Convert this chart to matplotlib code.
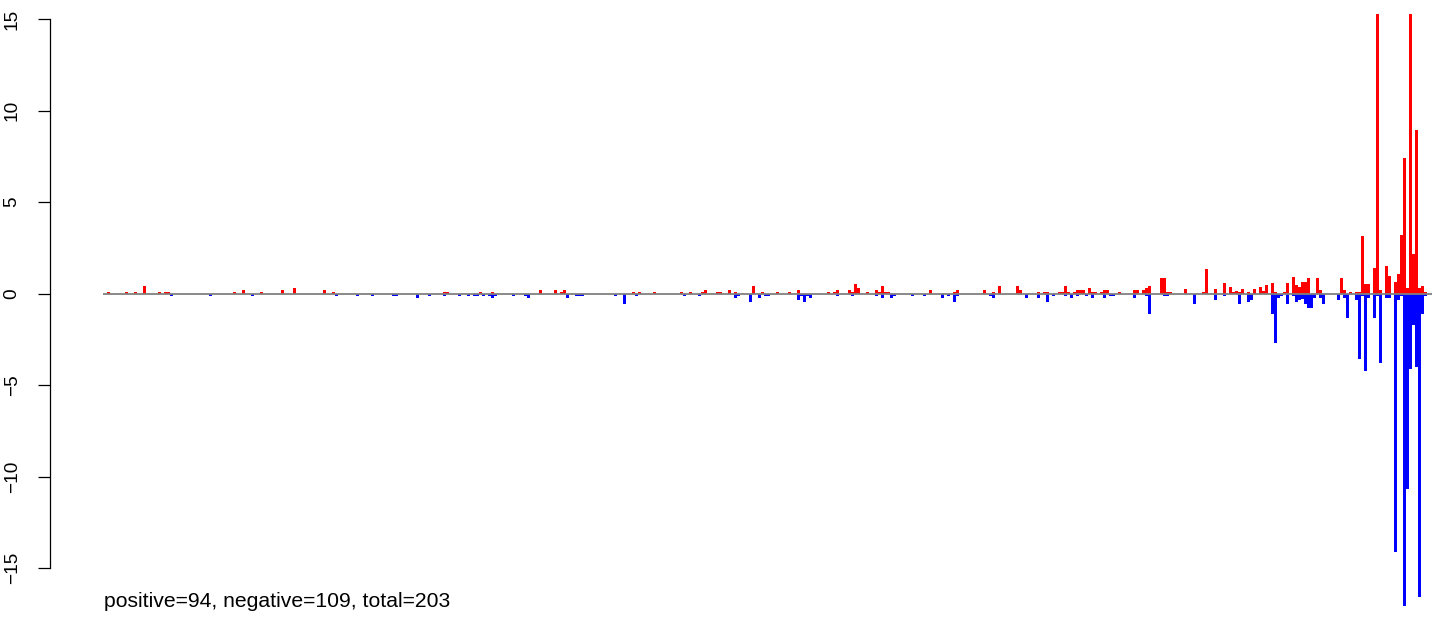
import numpy as np
import matplotlib
matplotlib.use('Agg')
import matplotlib.pyplot as plt

plt.rcParams['font.family'] = ['Liberation Sans', 'DejaVu Sans']

# slot index along the x axis and bar height
pos_slots = [0, 6, 9, 12, 17, 19, 20, 42, 45, 51, 58, 62, 72, 75,
             112, 113, 124, 128, 144, 149, 151, 152, 175, 177,
             182, 191, 194, 198, 199, 203, 204, 207, 209, 215, 218, 223, 227, 230,
             240, 242, 243, 247, 248, 249, 250, 253, 256, 257, 258, 259, 260,
             274, 282, 283, 292, 295, 297, 303, 304, 310, 312, 313, 317, 318, 319,
             320, 322, 323, 324, 325, 327, 328, 329, 331, 332, 333, 337, 342, 343,
             345, 346, 347, 351, 352, 353, 354, 359, 365, 366, 369, 372, 374, 375,
             376, 377, 378, 380, 382, 384, 385, 386, 388, 389, 392, 393, 395, 396,
             397, 398, 399, 400, 403, 404, 411, 412, 414, 416, 417, 418, 419, 420,
             422, 423, 424, 426, 427, 429, 430, 431, 432, 433, 434, 435, 436, 437,
             438, 439]
pos_vals = [0.1, 0.1, 0.1, 0.4, 0.1, 0.1, 0.1, 0.1, 0.18, 0.1, 0.18, 0.29, 0.18, 0.1,
            0.1, 0.1, 0.1, 0.1, 0.18, 0.18, 0.1, 0.18, 0.1, 0.1,
            0.1, 0.1, 0.1, 0.1, 0.18, 0.1, 0.1, 0.18, 0.1, 0.4, 0.1, 0.1, 0.1, 0.18,
            0.1, 0.1, 0.18, 0.18, 0.1, 0.5, 0.3, 0.1, 0.18, 0.1, 0.4, 0.1, 0.1,
            0.18, 0.1, 0.18, 0.18, 0.1, 0.4, 0.4, 0.18, 0.1, 0.1, 0.1, 0.1, 0.1, 0.4,
            0.1, 0.1, 0.18, 0.18, 0.18, 0.3, 0.1, 0.1, 0.1, 0.18, 0.18, 0.1, 0.18, 0.18,
            0.18, 0.3, 0.4, 0.83, 0.83, 0.1, 0.1, 0.27, 0.1, 1.36, 0.27, 0.6, 0.38, 0.1,
            0.16, 0.1, 0.27, 0.1, 0.27, 0.38, 0.16, 0.49, 0.6, 0.1, 0.1, 0.6, 0.92, 0.49,
            0.38, 0.62, 0.62, 0.83, 0.83, 0.18, 0.83, 0.18, 0.1, 0.07, 0.07, 3.12, 0.5, 0.5,
            1.38, 15.3, 0.18, 1.49, 0.94, 0.62, 1.05, 3.22, 7.41, 0.29, 15.3, 2.14, 8.93, 0.29,
            0.4, 0.1]

neg_slots = [21, 34, 48, 76, 83, 88, 95, 96, 103, 107, 112, 117, 120, 122, 123, 125,
             127, 128, 129, 135, 139, 140, 153, 156, 157, 158, 169, 172, 176,
             192, 197, 209, 210, 214, 217, 219, 220, 230, 231, 232, 233, 234, 243,
             248, 256, 258, 261, 262, 268, 272, 278, 280, 282, 283, 294, 295, 306,
             310, 313, 315, 319, 321, 323, 326, 328, 332, 334, 335, 342, 346, 347,
             352, 353, 362, 369, 372, 377, 380, 381, 388, 389, 390, 391, 393, 395,
             396, 397, 398, 399, 400, 401, 402, 404, 405, 410, 412, 413, 416, 417,
             418, 419, 420, 422, 423, 424, 426, 427, 429, 430, 431, 432, 433, 434,
             435, 436, 437, 438, 439]
neg_vals = [0.15, 0.15, 0.15, 0.15, 0.15, 0.15, 0.15, 0.15, 0.25, 0.15, 0.15, 0.15, 0.15, 0.15, 0.15, 0.15,
            0.15, 0.25, 0.15, 0.15, 0.15, 0.25, 0.25, 0.15, 0.15, 0.15, 0.15, 0.58, 0.15,
            0.15, 0.15, 0.25, 0.15, 0.47, 0.25, 0.15, 0.15, 0.36, 0.15, 0.47, 0.15, 0.25, 0.15,
            0.15, 0.15, 0.25, 0.25, 0.15, 0.15, 0.15, 0.25, 0.15, 0.47, 0.15, 0.15, 0.25, 0.25,
            0.25, 0.47, 0.15, 0.15, 0.25, 0.15, 0.15, 0.25, 0.25, 0.15, 0.15, 0.25, 0.15, 1.12,
            0.15, 0.15, 0.6, 0.38, 0.15, 0.6, 0.49, 0.38, 1.14, 2.72, 0.27, 0.16, 0.6, 0.15,
            0.49, 0.38, 0.31, 0.58, 0.8, 0.8, 0.25, 0.25, 0.58, 0.36, 0.25, 1.34, 0.36, 3.57,
            0.15, 4.22, 0.25, 1.34, 0.15, 3.79, 0.25, 0.25, 14.1, 0.36, 0.15, 17.1, 10.69, 4.11,
            1.72, 4.0, 16.56, 1.12, 0.15]

y_ticks = [-15, -10, -5, 0, 5, 10, 15]
summary = "positive=94, negative=109, total=203"

W, H = 1444, 618
fig = plt.figure(figsize=(W / 100, H / 100), dpi=100)
# axes box in pixels: left 50, right 1432, y from 19 (15) to 568 (-15)
ax = fig.add_axes([50 / W, (H - 568) / H, (1432 - 50) / W, (568 - 19) / H])
ax.set_xlim(-19, 441.67)
ax.set_ylim(-15, 15)

ax.bar(pos_slots, pos_vals, width=1, align='edge', color='#ff0000',
       linewidth=0, clip_on=False, zorder=2)
ax.bar(neg_slots, -np.array(neg_vals), width=1, align='edge', color='#0000ff',
       linewidth=0, clip_on=False, zorder=2)
ax.hlines(0, -1.33, 441.67, color='#808080', linewidth=1.3, zorder=3)

for s in ['top', 'right', 'bottom']:
    ax.spines[s].set_visible(False)
ax.spines['left'].set_linewidth(0.9)
ax.spines['left'].set_bounds(-15, 15)
ax.set_xticks([])
ax.set_yticks(y_ticks)
ax.set_yticklabels([str(t).replace('-', '\u2212') for t in y_ticks])
ax.tick_params(axis='y', length=8.6, width=0.9, pad=12.5, labelsize=13.7)
for lab in ax.get_yticklabels():
    lab.set_rotation(90)
    lab.set_va('center')
    lab.set_ha('right')
ax.patch.set_alpha(0)

fig.text(104 / W, (H - 607) / H, summary, fontsize=15.2, ha='left', va='baseline')

fig.savefig('out.png', dpi=100)
